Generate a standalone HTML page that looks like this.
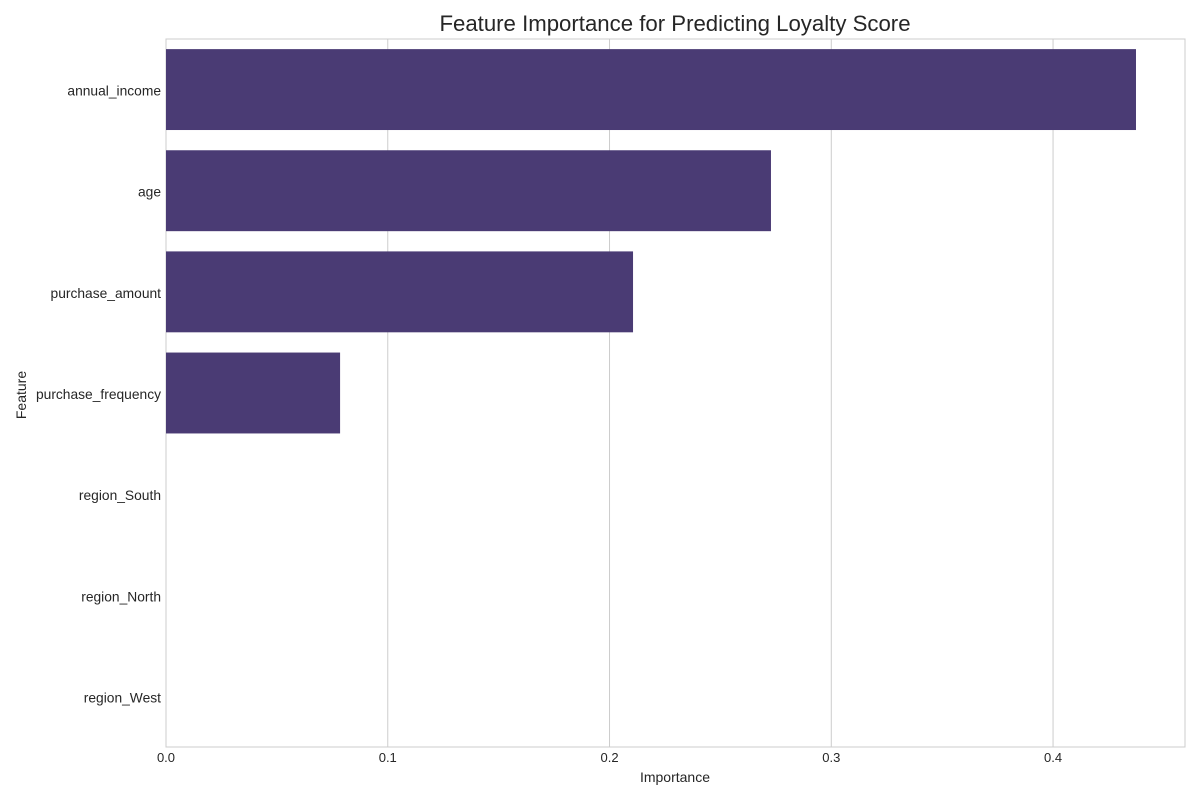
<!DOCTYPE html>
<html><head><meta charset="utf-8"><style>
body{margin:0;background:#fff;font-family:"Liberation Sans",sans-serif;}
</style></head><body>
<svg id="chart" width="1200" height="800" xmlns="http://www.w3.org/2000/svg">
<text x="675" y="31" text-anchor="middle" font-size="22.2" fill="#262626">Feature Importance for Predicting Loyalty Score</text>
<g id="grid"></g>
<g id="bars"></g>
<g id="labels"></g>
<text x="675" y="782" text-anchor="middle" font-size="14" fill="#262626">Importance</text>
<text transform="translate(26,395) rotate(-90)" text-anchor="middle" font-size="14" fill="#262626">Feature</text>
</svg>
<script>
const categories=["annual_income","age","purchase_amount","purchase_frequency","region_South","region_North","region_West"];
const importances=[0.4374,0.2728,0.2106,0.0785,0,0,0];
const xTicks=[0,0.1,0.2,0.3,0.4];
const xTickLabels=["0.0","0.1","0.2","0.3","0.4"];
const L=166,R=1185,T=39,B=747,XMAX=0.4595;
const ns="http://www.w3.org/2000/svg";
const x=v=>L+v/XMAX*(R-L);
const band=(B-T)/categories.length;
const y=i=>T+i*band;
function mk(tag,attrs,parent){const e=document.createElementNS(ns,tag);for(const k in attrs)e.setAttribute(k,attrs[k]);parent.appendChild(e);return e;}
const grid=document.getElementById('grid'),bars=document.getElementById('bars'),labels=document.getElementById('labels');
xTicks.forEach((t,i)=>{
  const ln=mk('line',{x1:x(t),x2:x(t),y1:T,y2:B,stroke:'#cccccc','stroke-width':1},grid);
  
  
  const tx=mk('text',{x:x(t),y:B+15,'text-anchor':'middle','font-size':13,fill:'#262626'},labels);
  tx.textContent=xTickLabels[i];
  
  
});
const fr=mk('rect',{x:L,y:T,width:R-L,height:B-T,fill:'none',stroke:'#cccccc','stroke-width':1},grid);


categories.forEach((c,i)=>{
  const w=x(importances[i])-x(0);
  const r=mk('rect',{x:x(0),y:y(i)+band*0.1,width:Math.max(0,w),height:band*0.8,fill:'#4a3b74'},bars);
  
  
  const t=mk('text',{x:L-5,y:y(i)+band/2+6,'text-anchor':'end','font-size':13.8,fill:'#262626'},labels);
  t.textContent=c;
  
  
});
</script>
</body></html>
